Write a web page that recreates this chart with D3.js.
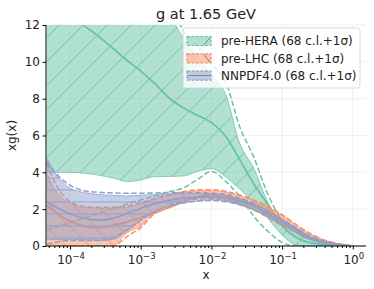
<!DOCTYPE html>
<html><head><meta charset="utf-8">
<script src="https://cdn.jsdelivr.net/npm/d3@7"></script>
<style>body{margin:0;background:#fff} text{font-family:"DejaVu Sans",sans-serif;fill:#222}</style>
</head><body><svg id="c" width="374" height="289"></svg>
<script>
// x grid
const xs = [4.7e-5, 6.3e-5, 1e-4, 1.6e-4, 2.5e-4, 4e-4, 6.3e-4, 1e-3, 1.6e-3, 2.5e-3, 4e-3, 6.3e-3, 1e-2, 1.6e-2, 2.5e-2, 4e-2, 6.3e-2, 0.1, 0.16, 0.25, 0.4, 0.63, 1.0];
// pre-HERA
const heraCentral = [13.4, 13.0, 12.5, 11.95, 11.4, 10.75, 10.1, 9.5, 8.8, 8.05, 7.5, 7.1, 6.7, 5.95, 4.7, 3.35, 2.25, 1.1, 0.45, 0.18, 0.08, 0.03, 0];
const heraUpper   = [20, 20, 19, 18.5, 18, 17, 16, 15.5, 14.5, 12.7, 11.3, 10.3, 9.3, 8.2, 5.6, 4.2, 2.35, 1.15, 0.6, 0.35, 0.25, 0.12, 0];
const heraLower   = [4.0, 4.0, 4.0, 3.95, 3.85, 3.7, 3.5, 3.58, 3.77, 3.78, 3.8, 4.05, 4.2, 3.75, 3.1, 2.35, 1.5, 0.6, 0.05, 0, 0, 0, 0];
const heraUp1s    = [24, 24, 23, 22, 21, 20, 19, 18, 16.5, 13.6, 11.7, 10.9, 9.9, 8.9, 6.5, 4.8, 2.8, 1.4, 0.7, 0.4, 0.28, 0.13, 0];
const heraDn1s    = [0.87, 1.03, 1.27, 1.52, 1.77, 2.02, 2.27, 2.5, 2.72, 2.95, 3.15, 3.6, 4.05, 3.5, 2.7, 1.6, 0.8, 0.2, 0, 0, 0, 0, 0];
// pre-LHC
const lhcCentral = [2.2, 1.8, 1.35, 1.08, 0.98, 1.12, 1.3, 1.55, 1.8, 2.08, 2.4, 2.65, 2.8, 2.72, 2.5, 2.25, 1.9, 1.45, 0.9, 0.45, 0.2, 0.07, 0];
const lhcUpper   = [3.9, 3.0, 2.3, 2.1, 2.05, 2.05, 2.1, 2.3, 2.55, 2.75, 2.9, 3.0, 3.0, 2.92, 2.72, 2.45, 2.1, 1.65, 1.1, 0.65, 0.3, 0.1, 0];
const lhcLower   = [0.15, 0.05, 0, 0, 0, 0, 0.7, 1.1, 1.9, 2.3, 2.5, 2.6, 2.62, 2.52, 2.3, 2.0, 1.6, 1.15, 0.75, 0.4, 0.15, 0.04, 0];
const lhcUp1s    = [4.5, 3.35, 2.4, 2.15, 2.1, 2.1, 2.15, 2.35, 2.6, 2.8, 2.95, 3.05, 3.05, 2.97, 2.77, 2.5, 2.15, 1.7, 1.15, 0.68, 0.32, 0.1, 0];
const lhcDn1s    = [0, 0, 0, 0, 0, 0, 0.5, 1.0, 1.8, 2.22, 2.45, 2.55, 2.57, 2.47, 2.25, 1.95, 1.55, 1.1, 0.7, 0.37, 0.13, 0.03, 0];
// NNPDF4.0
const nnCentral = [2.4, 2.1, 1.75, 1.5, 1.4, 1.5, 1.75, 2.05, 2.3, 2.48, 2.6, 2.66, 2.68, 2.6, 2.42, 2.15, 1.75, 1.3, 0.85, 0.45, 0.2, 0.06, 0];
const nnUpper   = [4.75, 3.9, 3.15, 2.9, 2.8, 2.75, 2.72, 2.75, 2.8, 2.83, 2.85, 2.85, 2.82, 2.75, 2.55, 2.28, 1.88, 1.42, 0.95, 0.52, 0.24, 0.07, 0];
const nnLower   = [0.35, 0.35, 0.35, 0.35, 0.3, 0.35, 0.8, 1.4, 1.9, 2.15, 2.35, 2.45, 2.5, 2.43, 2.27, 2.0, 1.62, 1.18, 0.75, 0.38, 0.15, 0.04, 0];
const nnUp1s    = [4.6, 3.95, 3.3, 3.0, 2.92, 2.88, 2.86, 2.86, 2.88, 2.9, 2.9, 2.9, 2.87, 2.8, 2.6, 2.32, 1.92, 1.46, 0.98, 0.54, 0.25, 0.08, 0];
const nnDn1s    = [0.1, 0.2, 0.3, 0.3, 0.3, 0.45, 0.85, 1.4, 1.88, 2.15, 2.33, 2.43, 2.47, 2.4, 2.24, 1.97, 1.6, 1.15, 0.73, 0.36, 0.14, 0.04, 0];

const xTicks = [1e-4, 1e-3, 1e-2, 1e-1, 1];
const xTickExp = ["\u22124", "\u22123", "\u22122", "\u22121", "0"];
const yTicks = [0, 2, 4, 6, 8, 10, 12];
const labels = ["pre-HERA (68 c.l.+1\u03c3)", "pre-LHC (68 c.l.+1\u03c3)", "NNPDF4.0 (68 c.l.+1\u03c3)"];
const colors = ["#66c2a5", "#fc8d62", "#8da0cb"];
const hatches = ["/", "\\", "-"];

const svg = d3.select("#c");
const x = d3.scaleLog().domain([Math.pow(10, -4.34), Math.pow(10, 0.187)]).range([46, 366]);
const y = d3.scaleLinear().domain([0, 12]).range([246, 25]);

const defs = svg.append("defs");
defs.append("clipPath").attr("id", "clip").append("rect")
  .attr("x", 46).attr("y", 25).attr("width", 320).attr("height", 221);

function hatchPattern(id, kind, color) {
  if (kind === "-") {
    const p = defs.append("pattern").attr("id", id).attr("patternUnits", "userSpaceOnUse")
      .attr("width", 10).attr("height", 12);
    p.append("line").attr("x1", 0).attr("x2", 10).attr("y1", 10).attr("y2", 10)
      .attr("stroke", color).attr("stroke-width", 1.1);
  } else {
    const p = defs.append("pattern").attr("id", id).attr("patternUnits", "userSpaceOnUse")
      .attr("width", 17).attr("height", 17)
      .attr("patternTransform", kind === "/" ? "rotate(45)" : "rotate(-45)");
    p.append("line").attr("x1", 8.5).attr("x2", 8.5).attr("y1", -1).attr("y2", 18)
      .attr("stroke", color).attr("stroke-width", 0.9);
  }
}
colors.forEach((c, i) => hatchPattern("h" + i, hatches[i], c));

// grid
const grid = svg.append("g");
yTicks.forEach(t => grid.append("line").attr("x1", 46).attr("x2", 366).attr("y1", y(t)).attr("y2", y(t))
  .attr("stroke", "#ebebeb").attr("stroke-width", 0.8));
xTicks.forEach(t => grid.append("line").attr("x1", x(t)).attr("x2", x(t)).attr("y1", 25).attr("y2", 246)
  .attr("stroke", "#ebebeb").attr("stroke-width", 0.8));

const plot = svg.append("g").attr("clip-path", "url(#clip)");
const sets = [
  {c: heraCentral, u: heraUpper, l: heraLower, u1: heraUp1s, d1: heraDn1s},
  {c: lhcCentral, u: lhcUpper, l: lhcLower, u1: lhcUp1s, d1: lhcDn1s},
  {c: nnCentral, u: nnUpper, l: nnLower, u1: nnUp1s, d1: nnDn1s}
];
const curve = d3.curveMonotoneX;
sets.forEach((s, i) => {
  const col = colors[i];
  const pts = xs.map((v, k) => ({x: v, c: s.c[k], u: s.u[k], l: s.l[k], u1: s.u1[k], d1: s.d1[k]}));
  const area = d3.area().x(d => x(d.x)).y0(d => y(d.l)).y1(d => y(d.u)).curve(curve);
  plot.append("path").datum(pts).attr("d", area).attr("fill", col).attr("fill-opacity", 0.5);
  plot.append("path").datum(pts).attr("d", area).attr("fill", "url(#h" + i + ")").attr("opacity", 0.8);
  ["u", "l"].forEach(key => plot.append("path").datum(pts)
    .attr("d", d3.line().x(d => x(d.x)).y(d => y(d[key])).curve(curve))
    .attr("fill", "none").attr("stroke", col).attr("stroke-width", 1).attr("stroke-opacity", 0.75));
  plot.append("path").datum(pts)
    .attr("d", d3.line().x(d => x(d.x)).y(d => y(d.c)).curve(curve))
    .attr("fill", "none").attr("stroke", col).attr("stroke-width", 1.7);
  ["u1", "d1"].forEach(key => plot.append("path").datum(pts)
    .attr("d", d3.line().x(d => x(d.x)).y(d => y(d[key])).curve(curve))
    .attr("fill", "none").attr("stroke", col).attr("stroke-width", 1.5).attr("stroke-dasharray", "5.5,2.5"));
});

// axes
const yAxis = svg.append("g").attr("transform", "translate(46,0)")
  .call(d3.axisLeft(y).tickValues(yTicks).tickSize(3.5).tickPadding(2.5).tickFormat(d3.format("d")));
yAxis.select(".domain").attr("stroke", "#000").attr("d", "M0,25V246");
yAxis.selectAll("text").style("font-size", "12px").attr("fill", "#222");

const minor = [];
for (let e = -5; e <= 0; e++) for (let m = 2; m <= 9; m++) {
  const v = m * Math.pow(10, e);
  if (v > x.domain()[0] && v < x.domain()[1]) minor.push(v);
}
const xMinor = svg.append("g").attr("transform", "translate(0,246)")
  .call(d3.axisBottom(x).tickValues(minor).tickSize(2).tickFormat(""));
xMinor.select(".domain").remove();
const xAxis = svg.append("g").attr("transform", "translate(0,246)")
  .call(d3.axisBottom(x).tickValues(xTicks).tickSize(3.5).tickFormat(""));
xAxis.select(".domain").attr("stroke", "#000").attr("d", "M46,0H366");

xTicks.forEach((t, i) => {
  const tx = svg.append("text").attr("x", x(t) + 1).attr("y", 263.5).attr("text-anchor", "middle")
    .style("font-size", "12px");
  tx.append("tspan").text("10");
  tx.append("tspan").attr("dy", -5).style("font-size", "8.5px").text(xTickExp[i]);
});

svg.append("text").attr("x", 206).attr("y", 278.5).attr("text-anchor", "middle").style("font-size", "12px").text("x");
svg.append("text").attr("transform", "translate(16,135.5) rotate(-90)").attr("text-anchor", "middle")
  .style("font-size", "12px").text("xg(x)");
svg.append("text").attr("x", 206).attr("y", 18.5).attr("text-anchor", "middle").style("font-size", "14.5px").text("g at 1.65 GeV");

// legend
const lg = svg.append("g");
lg.append("rect").attr("x", 183).attr("y", 28).attr("width", 177).attr("height", 60).attr("rx", 2.5)
  .attr("fill", "#fff").attr("fill-opacity", 0.8).attr("stroke", "#d0d0d0").attr("stroke-width", 0.8);
labels.forEach((lab, i) => {
  const cy = 41 + i * 17.3;
  const px = 187, py = cy - 4.5, pw = 24, ph = 9;
  lg.append("rect").attr("x", px).attr("y", py).attr("width", pw).attr("height", ph)
    .attr("fill", colors[i]).attr("fill-opacity", 0.5)
    .attr("stroke", colors[i]).attr("stroke-width", 1.2).attr("stroke-dasharray", "3,1.5");
  let seg;
  if (hatches[i] === "/") seg = [px + 17, py + ph - 0.5, px + pw - 1, py + 1];
  else if (hatches[i] === "\\") seg = [px + 17, py + 1, px + pw - 1, py + ph - 0.5];
  else seg = [px + 1, cy, px + pw - 1, cy];
  lg.append("line").attr("x1", seg[0]).attr("y1", seg[1]).attr("x2", seg[2]).attr("y2", seg[3])
    .attr("stroke", "#777").attr("stroke-width", 0.9);
  lg.append("text").attr("x", 221).attr("y", cy + 4.3).style("font-size", "12px").text(lab);
});
</script></body></html>
